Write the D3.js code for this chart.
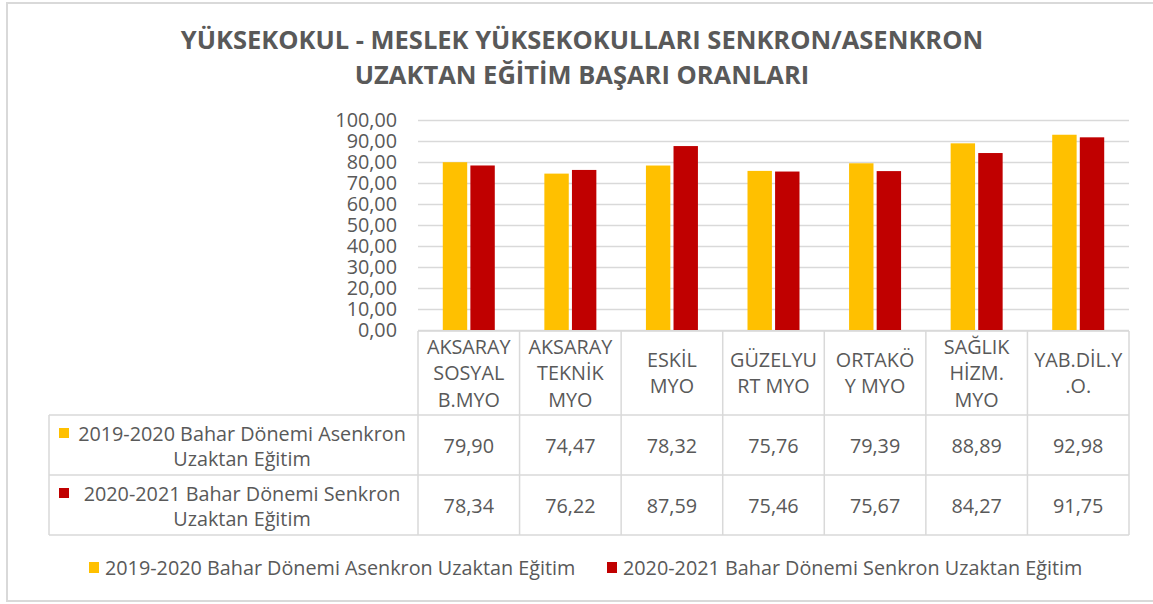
<!DOCTYPE html>
<html>
<head>
<meta charset="utf-8">
<script src="https://cdn.jsdelivr.net/npm/d3@7"></script>
<style>
  body { margin: 0; background: #fff; }
  svg text { font-family: "Open Sans", sans-serif; fill: #595959; }
</style>
</head>
<body>
<svg id="chart" width="1153" height="604"></svg>
<script>
// chart data
var titleLines = ["YÜKSEKOKUL - MESLEK YÜKSEKOKULLARI SENKRON/ASENKRON", "UZAKTAN EĞİTİM BAŞARI ORANLARI"];
var categories = ["AKSARAY\nSOSYAL\nB.MYO", "AKSARAY\nTEKNİK\nMYO", "ESKİL\nMYO", "GÜZELYU\nRT MYO", "ORTAKÖ\nY MYO", "SAĞLIK\nHİZM.\nMYO", "YAB.DİL.Y\n.O."];
var seriesNames = ["2019-2020 Bahar Dönemi Asenkron Uzaktan Eğitim", "2020-2021 Bahar Dönemi Senkron Uzaktan Eğitim"];
var rowLabels = [["2019-2020 Bahar Dönemi Asenkron", "Uzaktan Eğitim"], ["2020-2021 Bahar Dönemi Senkron", "Uzaktan Eğitim"]];
var asenkron2019 = [79.90, 74.47, 78.32, 75.76, 79.39, 88.89, 92.98];
var senkron2020 = [78.34, 76.22, 87.59, 75.46, 75.67, 84.27, 91.75];
var yTicks = [0, 10, 20, 30, 40, 50, 60, 70, 80, 90, 100];
var colors = ["#FFC000", "#C00000"];

var series = [asenkron2019, senkron2020];

var svg = d3.select("#chart");
var gridColor = "#d9d9d9";
var fontSize = "19.8px";

// outer chart border
svg.append("rect")
    .attr("x", 7).attr("y", 3)
    .attr("width", 1160).attr("height", 598)
    .attr("fill", "none")
    .attr("stroke", gridColor)
    .attr("stroke-width", 2);

// title
svg.append("g").selectAll("text")
    .data(titleLines)
    .join("text")
    .attr("x", 582)
    .attr("y", function(d, i) { return 49 + i * 35; })
    .attr("text-anchor", "middle")
    .style("font-size", "25.5px")
    .style("font-weight", "bold")
    .text(function(d) { return d; });

var plotLeft = 418, plotRight = 1129, plotTop = 120, plotBottom = 331;
var tableLeft = 49;
var rowY = [415, 475, 535];

var x = d3.scaleBand().domain(d3.range(categories.length)).range([plotLeft, plotRight]).padding(0);
var inner = d3.scaleBand().domain([0, 1]).range([0, 52]).paddingInner(0.115);
var y = d3.scaleLinear().domain([0, 100]).range([plotBottom - 1, plotTop]);

var locale = d3.formatLocale({ decimal: ",", thousands: ".", grouping: [3], currency: ["", ""] });
var fmt = locale.format(".2f");

// gridlines
svg.append("g")
    .attr("transform", "translate(" + plotLeft + ",0)")
    .call(d3.axisLeft(y).tickValues(yTicks).tickSize(-(plotRight - plotLeft)).tickFormat(""))
    .call(function(g) { g.select(".domain").remove(); })
    .selectAll("line")
    .attr("stroke", gridColor)
    .attr("stroke-width", 1.5);

// y axis labels
var yAxis = svg.append("g")
    .attr("transform", "translate(" + (plotLeft - 21) + ",0)")
    .call(d3.axisLeft(y).tickValues(yTicks).tickSize(0).tickPadding(0).tickFormat(fmt));
yAxis.select(".domain").remove();
yAxis.selectAll("text")
    .style("font-size", fontSize)
    .style("font-family", "'Open Sans', sans-serif")
    .attr("fill", "#595959");

// bars
series.forEach(function(vals, s) {
    svg.append("g").selectAll("rect")
        .data(vals)
        .join("rect")
        .attr("x", function(d, i) { return x(i) + (x.bandwidth() - 52) / 2 + inner(s); })
        .attr("width", inner.bandwidth())
        .attr("y", function(d) { return y(d); })
        .attr("height", function(d) { return y(0) - y(d); })
        .attr("fill", colors[s]);
});

// data table
var table = svg.append("g")
    .attr("stroke", gridColor)
    .attr("stroke-width", 1.5)
    .attr("fill", "none");

table.append("line").attr("x1", plotLeft).attr("x2", plotRight).attr("y1", plotBottom).attr("y2", plotBottom);
rowY.forEach(function(ry) {
    table.append("line").attr("x1", tableLeft).attr("x2", plotRight).attr("y1", ry).attr("y2", ry);
});
table.append("line").attr("x1", tableLeft).attr("x2", tableLeft).attr("y1", rowY[0]).attr("y2", rowY[2]);
d3.range(categories.length + 1).forEach(function(i) {
    var cx = i < categories.length ? x(i) : plotRight;
    table.append("line").attr("x1", cx).attr("x2", cx).attr("y1", plotBottom).attr("y2", rowY[2]);
});

// category header labels
var headerMid = (plotBottom + rowY[0]) / 2;
categories.forEach(function(c, i) {
    var lines = c.split("\n");
    var t = svg.append("text")
        .attr("text-anchor", "middle")
        .style("font-size", fontSize);
    lines.forEach(function(l, j) {
        t.append("tspan")
            .attr("x", x(i) + x.bandwidth() / 2)
            .attr("y", headerMid + (j - (lines.length - 1) / 2) * 26.5 + 7)
            .text(l);
    });
});

// rows: legend keys, labels and values
series.forEach(function(vals, s) {
    var mid = (rowY[s] + rowY[s + 1]) / 2;
    svg.append("rect")
        .attr("x", 59).attr("y", mid - 17)
        .attr("width", 10).attr("height", 10)
        .attr("fill", colors[s]);
    rowLabels[s].forEach(function(l, j) {
        svg.append("text")
            .attr("x", 242)
            .attr("y", mid - 4 + j * 25)
            .attr("text-anchor", "middle")
            .style("font-size", fontSize)
            .text(l);
    });
    svg.append("g").selectAll("text")
        .data(vals)
        .join("text")
        .attr("x", function(d, i) { return x(i) + x.bandwidth() / 2; })
        .attr("y", mid + 8)
        .attr("text-anchor", "middle")
        .style("font-size", fontSize)
        .text(function(d) { return fmt(d); });
});

// bottom legend
var legendX = [89, 607];
var legend = svg.append("g").selectAll("g")
    .data(seriesNames)
    .join("g")
    .attr("transform", function(d, i) { return "translate(" + legendX[i] + ",568)"; });
legend.append("rect")
    .attr("x", 0).attr("y", -6)
    .attr("width", 10).attr("height", 11)
    .attr("fill", function(d, i) { return colors[i]; });
legend.append("text")
    .attr("x", 16).attr("y", 7)
    .style("font-size", fontSize)
    .text(function(d) { return d; });
</script>
</body>
</html>
